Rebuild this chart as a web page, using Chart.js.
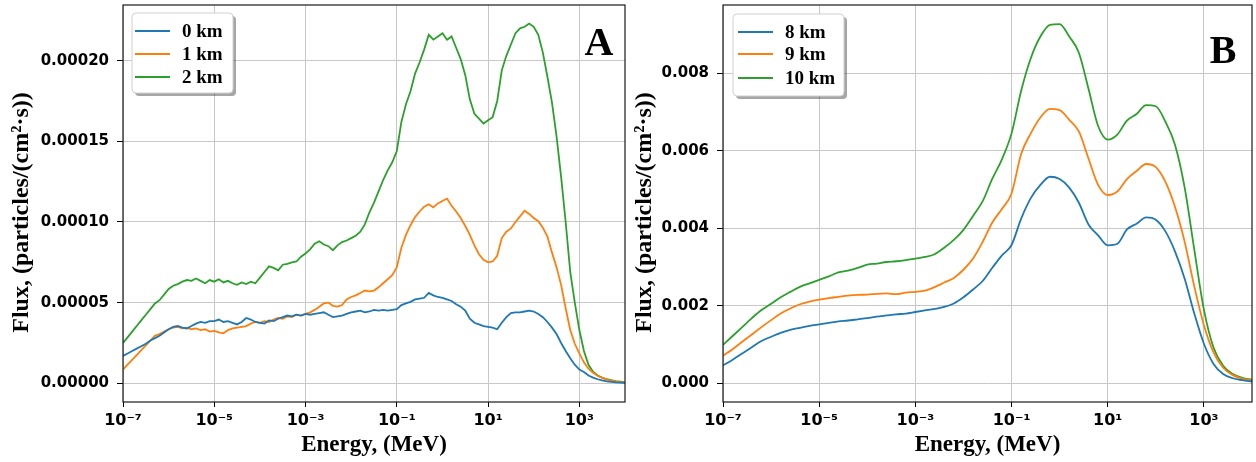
<!DOCTYPE html>
<html>
<head>
<meta charset="utf-8">
<script src="https://cdn.jsdelivr.net/npm/chart.js@4.4.1/dist/chart.umd.min.js"></script>
<style>
body { margin: 0; background: #fff; }
.panel { position: absolute; top: 0; height: 462px; }
#panelA { left: 0; width: 630px; }
#panelB { left: 630px; width: 626px; }
</style>
</head>
<body>
<div class="panel" id="panelA"><canvas id="chartA" width="630" height="462"></canvas></div>
<div class="panel" id="panelB"><canvas id="chartB" width="626" height="462"></canvas></div>
<script>
// panel A : energy exponents (log10 MeV), flux in units of 1e-5
const energyExpA = [
  -7.0, -6.9, -6.8, -6.7, -6.6, -6.5, -6.4, -6.3, -6.2, -6.1,
  -6.0, -5.9, -5.8, -5.7, -5.6, -5.5, -5.4, -5.3, -5.2, -5.1,
  -5.0, -4.9, -4.8, -4.7, -4.6, -4.5, -4.4, -4.3, -4.2, -4.1,
  -4.0, -3.9, -3.8, -3.7, -3.6, -3.5, -3.4, -3.3, -3.2, -3.1,
  -3.0, -2.9, -2.8, -2.7, -2.6, -2.5, -2.4, -2.3, -2.2, -2.1,
  -2.0, -1.9, -1.8, -1.7, -1.6, -1.5, -1.4, -1.3, -1.2, -1.1,
  -1.0, -0.9, -0.8, -0.7, -0.6, -0.5, -0.4, -0.3, -0.2, -0.1,
  0.0, 0.1, 0.2, 0.3, 0.4, 0.5, 0.6, 0.7, 0.8, 0.9,
  1.0, 1.1, 1.2, 1.3, 1.4, 1.5, 1.6, 1.7, 1.8, 1.9,
  2.0, 2.1, 2.2, 2.3, 2.4, 2.5, 2.6, 2.7, 2.8, 2.9,
  3.0, 3.1, 3.2, 3.3, 3.4, 3.5, 3.6, 3.7, 3.8, 3.9,
  4.0
];
const flux0km = [
  1.70, 1.85, 2.00, 2.15, 2.30, 2.45, 2.65, 2.80, 2.95, 3.15,
  3.35, 3.50, 3.55, 3.45, 3.40, 3.55, 3.70, 3.80, 3.75, 3.85,
  3.85, 3.95, 3.80, 3.85, 3.75, 3.65, 3.80, 4.05, 3.95, 3.80,
  3.75, 3.70, 3.90, 3.85, 4.00, 4.10, 4.20, 4.15, 4.25, 4.20,
  4.30, 4.25, 4.30, 4.35, 4.40, 4.25, 4.10, 4.15, 4.20, 4.30,
  4.40, 4.45, 4.50, 4.40, 4.45, 4.55, 4.50, 4.55, 4.50, 4.55,
  4.60, 4.85, 4.95, 5.05, 5.20, 5.25, 5.30, 5.60, 5.45, 5.35,
  5.30, 5.20, 5.10, 4.90, 4.75, 4.50, 4.00, 3.75, 3.65, 3.55,
  3.50, 3.45, 3.35, 3.75, 4.10, 4.35, 4.40, 4.40, 4.45, 4.50,
  4.45, 4.30, 4.10, 3.80, 3.45, 3.05, 2.50, 2.00, 1.55, 1.15,
  0.85, 0.70, 0.48, 0.35, 0.25, 0.18, 0.12, 0.09, 0.06, 0.04,
  0.02
];
const flux1km = [
  0.85, 1.15, 1.45, 1.75, 2.05, 2.35, 2.65, 2.95, 3.05, 3.20,
  3.35, 3.45, 3.50, 3.40, 3.45, 3.35, 3.40, 3.30, 3.35, 3.20,
  3.25, 3.15, 3.10, 3.30, 3.40, 3.45, 3.50, 3.55, 3.70, 3.80,
  3.75, 3.85, 3.80, 3.95, 4.05, 4.00, 4.15, 4.10, 4.25, 4.20,
  4.30, 4.40, 4.55, 4.75, 4.95, 5.00, 4.80, 4.75, 4.85, 5.20,
  5.35, 5.45, 5.60, 5.75, 5.70, 5.75, 5.95, 6.20, 6.45, 6.70,
  7.20, 8.40, 9.20, 9.80, 10.30, 10.65, 10.95, 11.10, 10.90, 11.15,
  11.30, 11.45, 11.00, 10.65, 10.25, 9.75, 9.20, 8.55, 8.00, 7.65,
  7.50, 7.55, 7.90, 9.00, 9.40, 9.60, 10.00, 10.35, 10.70, 10.50,
  10.25, 10.05, 9.65, 9.10, 8.10, 7.20, 6.10, 4.65, 3.30, 2.45,
  1.85, 1.30, 0.90, 0.65, 0.47, 0.33, 0.23, 0.16, 0.11, 0.07,
  0.04
];
const flux2km = [
  2.50, 2.85, 3.20, 3.55, 3.90, 4.25, 4.60, 4.95, 5.15, 5.50,
  5.85, 6.05, 6.15, 6.30, 6.40, 6.35, 6.50, 6.35, 6.20, 6.40,
  6.30, 6.45, 6.25, 6.35, 6.20, 6.10, 6.25, 6.15, 6.30, 6.20,
  6.55, 6.90, 7.25, 7.15, 7.00, 7.35, 7.40, 7.50, 7.55, 7.85,
  8.05, 8.30, 8.65, 8.80, 8.60, 8.50, 8.25, 8.55, 8.75, 8.85,
  9.00, 9.15, 9.40, 9.85, 10.60, 11.20, 11.90, 12.60, 13.20, 13.70,
  14.40, 16.20, 17.30, 18.10, 19.20, 19.90, 20.70, 21.60, 21.30, 21.50,
  21.70, 21.30, 21.50, 20.80, 20.10, 19.10, 17.60, 16.70, 16.40, 16.10,
  16.30, 16.50, 17.50, 19.40, 20.30, 21.00, 21.70, 22.00, 22.10, 22.30,
  22.10, 21.60, 20.50, 19.00, 17.40, 15.30, 12.80, 10.00, 6.90, 5.00,
  3.30, 2.00, 1.15, 0.72, 0.48, 0.35, 0.25, 0.19, 0.14, 0.10,
  0.06
];

// panel B : energy exponents, flux in units of 1e-3
const energyExpB = [
  -7.0, -6.8, -6.6, -6.4, -6.2, -6.0, -5.8, -5.6, -5.4, -5.2,
  -5.0, -4.8, -4.6, -4.4, -4.2, -4.0, -3.8, -3.6, -3.4, -3.2,
  -3.0, -2.8, -2.6, -2.4, -2.2, -2.0, -1.8, -1.6, -1.4, -1.2,
  -1.0, -0.8, -0.6, -0.4, -0.2, 0.0, 0.2, 0.4, 0.6, 0.8,
  1.0, 1.2, 1.4, 1.6, 1.8, 2.0, 2.2, 2.4, 2.6, 2.8,
  3.0, 3.2, 3.4, 3.6, 3.8, 4.0
];
const flux8km = [
  0.46, 0.61, 0.77, 0.93, 1.09, 1.20, 1.30, 1.38, 1.43, 1.48,
  1.52, 1.56, 1.60, 1.62, 1.65, 1.68, 1.72, 1.75, 1.78, 1.80,
  1.84, 1.88, 1.92, 1.97, 2.06, 2.22, 2.42, 2.64, 2.98, 3.30,
  3.57, 4.25, 4.78, 5.12, 5.33, 5.27, 5.05, 4.66, 4.10, 3.82,
  3.56, 3.60, 3.97, 4.12, 4.28, 4.22, 3.92, 3.40, 2.70, 1.80,
  1.02, 0.50, 0.24, 0.13, 0.08, 0.04
];
const flux9km = [
  0.71, 0.88, 1.07, 1.26, 1.45, 1.63, 1.80, 1.93, 2.04, 2.11,
  2.16, 2.20, 2.23, 2.26, 2.28, 2.29, 2.31, 2.32, 2.30, 2.34,
  2.36, 2.39, 2.48, 2.60, 2.72, 2.93, 3.22, 3.65, 4.15, 4.50,
  4.90, 5.92, 6.45, 6.86, 7.08, 7.05, 6.80, 6.50, 5.80, 5.12,
  4.86, 4.95, 5.27, 5.48, 5.66, 5.58, 5.20, 4.55, 3.65, 2.50,
  1.50, 0.80, 0.40, 0.21, 0.12, 0.07
];
const flux10km = [
  0.99, 1.22, 1.45, 1.68, 1.89, 2.05, 2.22, 2.36, 2.49, 2.58,
  2.67, 2.76, 2.86, 2.91, 2.98, 3.06, 3.09, 3.13, 3.15, 3.18,
  3.22, 3.26, 3.33, 3.50, 3.70, 3.96, 4.32, 4.70, 5.28, 5.78,
  6.45, 7.55, 8.39, 8.95, 9.25, 9.27, 8.95, 8.53, 7.60, 6.64,
  6.29, 6.42, 6.78, 6.95, 7.18, 7.15, 6.75, 6.15, 5.05, 3.45,
  1.90, 0.92, 0.45, 0.24, 0.14, 0.09
];

const xTickExps = [-7, -5, -3, -1, 1, 3];
const yTicksA = [0, 0.00005, 0.0001, 0.00015, 0.0002];
const yTicksB = [0, 0.002, 0.004, 0.006, 0.008];
const labelsA = ["0 km", "1 km", "2 km"];
const labelsB = ["8 km", "9 km", "10 km"];
const colors = ["#1f77b4", "#ff7f0e", "#2ca02c"];

const SUP = {"-": "\u207B", "0": "\u2070", "1": "\u00B9", "2": "\u00B2", "3": "\u00B3",
  "4": "\u2074", "5": "\u2075", "6": "\u2076", "7": "\u2077", "8": "\u2078", "9": "\u2079"};

function powerLabel(v) {
  var e = Math.round(Math.log10(v));
  return "10" + String(e).split("").map(function (c) { return SUP[c]; }).join("");
}

function toPoints(exps, vals, unit) {
  return exps.map(function (e, i) { return { x: Math.pow(10, e), y: vals[i] * unit }; });
}

const panelDecor = {
  id: "panelDecor",
  afterDatasetsDraw(chart, args, o) {
    const ctx = chart.ctx;
    const a = chart.chartArea;
    ctx.save();
    // frame on all four sides
    ctx.strokeStyle = "#1a1a1a";
    ctx.lineWidth = 1.2;
    ctx.strokeRect(a.left, a.top, a.right - a.left, a.bottom - a.top);

    // legend box with shadow
    ctx.fillStyle = "rgba(0,0,0,0.35)";
    ctx.beginPath();
    ctx.roundRect(o.box[0] + 3, o.box[1] + 3, o.box[2], o.box[3], 4);
    ctx.fill();
    ctx.fillStyle = "#fff";
    ctx.strokeStyle = "#d0d0d0";
    ctx.lineWidth = 1;
    ctx.beginPath();
    ctx.roundRect(o.box[0], o.box[1], o.box[2], o.box[3], 4);
    ctx.fill();
    ctx.stroke();
    ctx.font = "bold 19px 'Liberation Serif'";
    ctx.textBaseline = "middle";
    ctx.textAlign = "left";
    chart.data.datasets.forEach(function (ds, i) {
      var y = o.rows[i];
      ctx.strokeStyle = ds.borderColor;
      ctx.lineWidth = 2;
      ctx.beginPath();
      ctx.moveTo(o.line[0], y);
      ctx.lineTo(o.line[1], y);
      ctx.stroke();
      ctx.fillStyle = "#000";
      ctx.fillText(ds.label, o.textX, y + 1);
    });

    ctx.font = "bold 40px 'Liberation Serif'";
    ctx.textAlign = "center";
    ctx.textBaseline = "alphabetic";
    ctx.fillStyle = "#000";
    ctx.fillText(o.letter, o.letterPos[0], o.letterPos[1]);
    ctx.restore();
  }
};

function makePanel(canvasId, exps, series, labels, unit, yRange, yTicks, yDigits, cfg) {
  const datasets = series.map(function (vals, i) {
    return {
      label: labels[i],
      data: toPoints(exps, vals, unit),
      borderColor: colors[i],
      borderWidth: 1.8,
      pointRadius: 0,
      tension: cfg.smooth ? 0.4 : 0,
      cubicInterpolationMode: cfg.smooth ? "monotone" : "default"
    };
  });
  const tickFont = { family: "'DejaVu Sans'", size: 15, weight: "bold" };
  const titleFont = { family: "'Liberation Serif'", size: 24, weight: "bold" };
  return new Chart(document.getElementById(canvasId), {
    type: "line",
    data: { datasets: datasets },
    plugins: [panelDecor],
    options: {
      responsive: false,
      animation: false,
      layout: { padding: { left: cfg.padLeft, top: 5, right: cfg.padRight, bottom: 3 } },
      plugins: {
        legend: { display: false },
        tooltip: { enabled: false },
        panelDecor: cfg.decor
      },
      scales: {
        x: {
          type: "logarithmic",
          min: 1e-7,
          max: 1e4,
          afterBuildTicks: function (scale) {
            scale.ticks = xTickExps.map(function (e) { return { value: Math.pow(10, e) }; });
          },
          afterFit: function (scale) {
            scale.height = 57;
            scale.paddingLeft = 0;
            scale.paddingRight = 0;
          },
          ticks: {
            color: "#000",
            font: { family: "'DejaVu Sans'", size: 16, weight: "bold" },
            padding: 4,
            maxRotation: 0,
            autoSkip: false,
            callback: function (v) { return powerLabel(v); }
          },
          grid: { color: "#c8c8c8", lineWidth: 1, tickColor: "#000", tickLength: 5 },
          border: { display: false },
          title: { display: true, text: "Energy, (MeV)", color: "#000", font: { family: "'Liberation Serif'", size: 23, weight: "bold" }, padding: { top: 0, bottom: 0 } }
        },
        y: {
          min: yRange[0],
          max: yRange[1],
          afterBuildTicks: function (scale) {
            scale.ticks = yTicks.map(function (v) { return { value: v }; });
          },
          afterFit: function (scale) {
            scale.width = cfg.yWidth;
            scale.paddingTop = 0;
            scale.paddingBottom = 0;
          },
          ticks: {
            color: "#000",
            font: tickFont,
            padding: 8,
            callback: function (v) { return Number(v).toFixed(yDigits); }
          },
          grid: { color: "#c8c8c8", lineWidth: 1, tickColor: "#000", tickLength: 6 },
          border: { display: false },
          // trailing spaces nudge the rotated label a little lower, like the original
          title: { display: true, text: "Flux, (particles/(cm\u00B2\u00B7s))\u00A0\u00A0\u00A0", color: "#000", font: titleFont, padding: { top: 0, bottom: 0 } }
        }
      }
    }
  });
}

const chartA = makePanel("chartA", energyExpA, [flux0km, flux1km, flux2km], labelsA, 1e-5,
  [-0.0000116, 0.0002345], yTicksA, 5, {
    smooth: false, padLeft: 7, padRight: 5, yWidth: 116,
    decor: { box: [132, 13, 101, 80], rows: [31, 54, 77], line: [135, 170], textX: 182, letter: "A", letterPos: [599, 55] }
  });

const chartB = makePanel("chartB", energyExpB, [flux8km, flux9km, flux10km], labelsB, 1e-3,
  [-0.000483, 0.009763], yTicksB, 3, {
    smooth: true, padLeft: 0, padRight: 4, yWidth: 93,
    decor: { box: [103, 14, 111, 82], rows: [32, 54, 78], line: [108, 143], textX: 155, letter: "B", letterPos: [593, 63] }
  });
</script>
</body>
</html>
